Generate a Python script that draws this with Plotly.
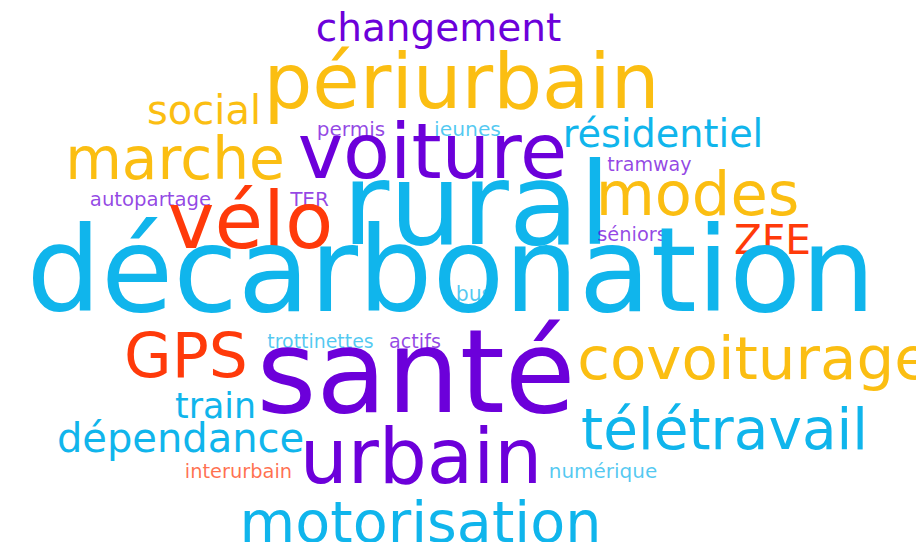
import plotly.graph_objects as go

# Word cloud content
words = ["changement", "périurbain", "social", "permis", "jeunes", "marche", "voiture",
         "résidentiel", "tramway", "modes", "autopartage", "TER", "vélo", "rural",
         "séniors", "ZFE", "décarbonation", "bus", "trottinettes", "actifs", "GPS",
         "santé", "covoiturage", "train", "télétravail", "dépendance", "urbain",
         "interurbain", "numérique", "motorisation"]
# relative weight of each word (drives font size)
weights = [39, 77, 40, 20, 20.3, 58.2, 76.8,
           38.2, 19.1, 60.7, 19.7, 20, 79, 114.5,
           19.4, 40.7, 117.4, 20.4, 18.9, 19.2, 61.5,
           115, 59.5, 34.8, 56.5, 40, 75.7,
           19.4, 20, 57.2]
# colour group of each word
groups = ["purple", "amber", "amber", "purple", "cyan", "amber", "purple",
          "cyan", "purple", "amber", "purple", "purple", "red", "cyan",
          "purple", "red", "cyan", "cyan", "cyan", "purple", "red",
          "purple", "amber", "cyan", "cyan", "cyan", "purple",
          "red", "cyan", "cyan"]
# word placement in the cloud (left edge, right edge, baseline) in pixels
left = [308, 260, 140, 310, 427, 58, 292,
        555, 600, 590, 83, 283, 162, 340,
        590, 727, 24, 449, 260, 382, 118,
        252, 575, 167, 575, 50, 295,
        178, 542, 233]
right = [553, 647, 252, 376, 492, 276, 557,
         755, 683, 789, 202, 320, 323, 597,
         658, 802, 862, 483, 365, 432, 238,
         564, 917, 248, 858, 295, 531,
         283, 648, 592]
baseline = [37, 108, 120, 130, 130, 177, 178,
            143, 165, 213, 200, 200, 248, 247,
            235, 250, 315, 295, 342, 342, 375,
            415, 377, 413, 447, 448, 483,
            472, 472, 540]

palette = {"cyan": (16, 181, 236), "purple": (108, 0, 218),
           "amber": (251, 190, 18), "red": (255, 58, 10)}

xs = [(l + r) / 2 for l, r in zip(left, right)]
ys = [b - 0.35 * s for b, s in zip(baseline, weights)]
colors = []
for g, s in zip(groups, weights):
    r, gg, b = palette[g]
    a = 0.72 if s < 25 else 1.0
    colors.append(f"rgba({r},{gg},{b},{a})")

fig = go.Figure(go.Scatter(
    x=xs, y=ys, mode="text", text=words, textposition="middle center",
    textfont=dict(family="DejaVu Sans, sans-serif", size=weights, color=colors),
    hoverinfo="skip", cliponaxis=False))

fig.update_layout(
    width=924, height=542, margin=dict(l=0, r=0, t=0, b=0),
    paper_bgcolor="white", plot_bgcolor="white", showlegend=False,
    xaxis=dict(range=[0, 924], visible=False, fixedrange=True),
    yaxis=dict(range=[542, 0], visible=False, fixedrange=True),
)
fig.write_html("out.html", config={"displayModeBar": False})
